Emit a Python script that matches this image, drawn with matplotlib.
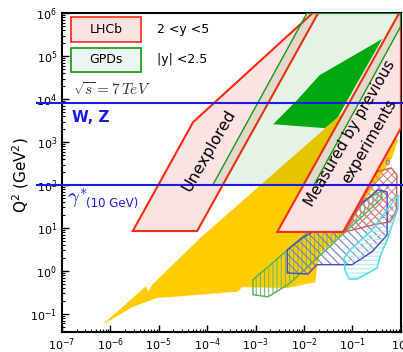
import matplotlib
matplotlib.use('Agg')
import numpy as np
import matplotlib.pyplot as plt
from matplotlib.patches import Rectangle

# ---- data (x, Q^2 in GeV^2) ----
# LHCb acceptance 2<y<5, small-x side ("Unexplored")
lhcb_low_x = [2.9e-6, 5.1e-5, 1.5e-2, 1.95e-2, 6.2e-5]
lhcb_low_q2 = [8.5, 2.9e3, 1e6, 1e6, 8.5]
# LHCb acceptance, large-x side ("Measured by previous experiments")
lhcb_high_x = [2.8e-3, 0.92, 1.0, 1.0, 6.4e-2]
lhcb_high_q2 = [8.1, 1e6, 1e6, 2.1e3, 8.1]
# GPDs |y|<2.5
gpd_x = [1.3e-4, 1.15e-2, 1.0, 1.0, 1.6e-2]
gpd_q2 = [100, 1e6, 1e6, 5.0e5, 100]
# solid green region
dkgreen_x = [2.3e-3, 7.2e-3, 2.1e-2, 0.41, 5.0e-2, 2.7e-2]
dkgreen_q2 = [2.6e3, 9.5e3, 3.6e4, 2.5e5, 3.8e3, 2.1e3]
# HERA (yellow)
hera_x = [6.7e-7, 5.4e-6, 6.1e-6, 7.2e-6, 7.1e-5, 5.0e-2, 0.18, 0.87, 0.66,
          7.0e-2, 2.1e-2, 1.86e-2, 1.7e-2, 4.5e-3, 5.2e-4, 4.3e-4, 7.1e-5,
          9.2e-6, 2.9e-6]
hera_q2 = [0.055, 0.44, 0.33, 0.47, 5.8, 3.8e3, 1.24e4, 1.1e3, 425,
           8.1, 2.6, 1.24, 0.55, 0.40, 0.42, 0.33, 0.28, 0.235, 0.146]
# fixed-target regions (hatched)
fixg_x = [8.8e-4, 8.8e-4, 1.8e-3, 4.9e-3, 0.41, 0.39, 1.15e-2]
fixg_q2 = [0.62, 0.28, 0.25, 0.50, 50, 72, 7.7]
fixb_x = [4.5e-3, 4.5e-3, 1.2e-2, 1.86e-2, 9.8e-2, 0.254, 0.52, 0.52,
          0.338, 0.158, 6.1e-2, 1.5e-2, 9.1e-3]
fixb_q2 = [3.1, 0.90, 0.85, 1.4, 1.4, 2.8, 6.9, 69, 77, 38, 10, 8.1, 5.8]
fixr_x = [7.0e-2, 0.254, 0.60, 0.80, 0.83, 0.63, 0.293, 0.144]
fixr_q2 = [8.1, 11.7, 14, 24, 171, 250, 200, 34]
fixc_x = [6.7e-2, 7.0e-2, 8.5e-2, 0.124, 0.322, 0.372, 0.52, 0.87, 0.87,
          0.254, 8.9e-2]
fixc_q2 = [2.0, 1.05, 0.65, 0.65, 1.17, 2.2, 5.3, 29, 58, 9.0, 3.1]
dot_x = [0.49, 0.92]
dot_q2 = [500, 3600]

# scale lines
wz_q2 = 8300
gamma_q2 = 100
hline_x = [3e-8, 1.05]

xticks = [1e-7, 1e-6, 1e-5, 1e-4, 1e-3, 1e-2, 1e-1, 1]
yticks = [1e-1, 1, 10, 1e2, 1e3, 1e4, 1e5, 1e6]

pink = '#fde2e4'
red = '#ff2a10'
blue = '#1a1aeb'

plt.rcParams['hatch.linewidth'] = 0.8

fig = plt.figure(figsize=(4.03, 3.52), dpi=100)
ax = fig.add_axes([0.1538, 0.0568, 0.841, 0.906])
ax.set_xscale('log')
ax.set_yscale('log')
ax.set_xlim(1e-7, 1.0)
ax.set_ylim(0.038, 1e6)

ax.fill(hera_x, hera_q2, color='#ffcc00', lw=0, zorder=3)

# hatched regions: hatch in a light colour, outline in a darker one
ax.fill(fixg_x, fixg_q2, facecolor='none', edgecolor='#70bc70', hatch='||||', lw=0, zorder=3.4)
ax.fill(fixg_x, fixg_q2, facecolor='none', edgecolor='#55b055', lw=1, zorder=3.5)
ax.fill(fixb_x, fixb_q2, facecolor='none', edgecolor='#7878cc', hatch='\\\\\\\\', lw=0, zorder=3.4)
ax.fill(fixb_x, fixb_q2, facecolor='none', edgecolor='#4a4ac0', lw=1, zorder=3.5)
ax.fill(fixr_x, fixr_q2, facecolor='none', edgecolor='#d88484', hatch='xxxx', lw=0, zorder=3.4)
ax.fill(fixr_x, fixr_q2, facecolor='none', edgecolor='#d06060', lw=1, zorder=3.5)
ax.fill(fixc_x, fixc_q2, facecolor='none', edgecolor='#b4eef2', hatch='----', lw=0, zorder=3.4)
ax.fill(fixc_x, fixc_q2, facecolor='none', edgecolor='#55e0e8', lw=1.2, zorder=3.5)
ax.plot(dot_x, dot_q2, ls=':', color='#9090a0', lw=1, zorder=3.5)
ax.text(0.52, 330, '6', color='#6a6ad0', fontsize=6, ha='center', va='center', zorder=3.6)

ax.fill(lhcb_low_x, lhcb_low_q2, facecolor=pink, edgecolor=red, lw=1.5, zorder=4)
ax.fill(lhcb_high_x, lhcb_high_q2, facecolor=pink, edgecolor=red, lw=1.5, zorder=4)
ax.fill(gpd_x, gpd_q2, facecolor=(0, 0.5, 0, 0.1), edgecolor='#129a12', lw=1, zorder=5)
ax.fill(dkgreen_x, dkgreen_q2, color='#00aa10', lw=0, zorder=6)

ax.plot(hline_x, [wz_q2, wz_q2], color=blue, lw=1.5, clip_on=False, zorder=7)
ax.plot(hline_x, [gamma_q2, gamma_q2], color=blue, lw=1.5, clip_on=False, zorder=7)

ax.text(1.09e-4, 650, 'Unexplored', rotation=60, fontsize=11.5,
        ha='center', va='center', rotation_mode='anchor', zorder=8)
ax.text(0.089, 1620, 'Measured by previous', rotation=60, fontsize=10.8,
        ha='center', va='center', rotation_mode='anchor', zorder=8)
ax.text(0.22, 1050, 'experiments', rotation=60, fontsize=10.8,
        ha='center', va='center', rotation_mode='anchor', zorder=8)

# legend boxes
ax.add_patch(Rectangle((0.027, 0.909), 0.206, 0.078, transform=ax.transAxes,
                       facecolor=pink, edgecolor=red, lw=1.2, zorder=8))
ax.add_patch(Rectangle((0.027, 0.815), 0.206, 0.075, transform=ax.transAxes,
                       facecolor='#eef6f2', edgecolor='#129a12', lw=1.2, zorder=8))
ax.text(0.130, 0.947, 'LHCb', transform=ax.transAxes, fontsize=9, ha='center', va='center', zorder=9)
ax.text(0.130, 0.853, 'GPDs', transform=ax.transAxes, fontsize=9, ha='center', va='center', zorder=9)
ax.text(0.280, 0.947, '2 <y <5', transform=ax.transAxes, fontsize=9, ha='left', va='center', zorder=9)
ax.text(0.280, 0.853, '|y| <2.5', transform=ax.transAxes, fontsize=9, ha='left', va='center', zorder=9)

ax.text(0.032, 0.759, r'$\sqrt{s} = 7\,TeV$', transform=ax.transAxes, fontsize=11,
        math_fontfamily='cm', color='#333333', ha='left', va='center', zorder=9)
ax.text(0.029, 0.674, 'W, Z', transform=ax.transAxes, fontsize=11, fontweight='bold',
        color=blue, ha='left', va='center', zorder=9)
ax.text(0.016, 0.420, r'$\gamma^{*}$', transform=ax.transAxes, fontsize=15,
        math_fontfamily='cm', color=blue, ha='left', va='center', zorder=9)
ax.text(0.071, 0.402, '(10 GeV)', transform=ax.transAxes, fontsize=8.5,
        color=blue, ha='left', va='center', zorder=9)

ax.set_xticks(xticks)
ax.set_yticks(yticks)
ax.tick_params(which='both', direction='in', labelsize=8)
ax.tick_params(which='major', length=5, width=1)
ax.tick_params(which='minor', length=2.5, width=0.8)
for s in ax.spines.values():
    s.set_linewidth(1.5)

fig.text(0.052, 0.503, 'Q$^2$ (GeV$^2$)', rotation=90, fontsize=11, ha='center', va='center')

fig.savefig('out.png', dpi=100)
